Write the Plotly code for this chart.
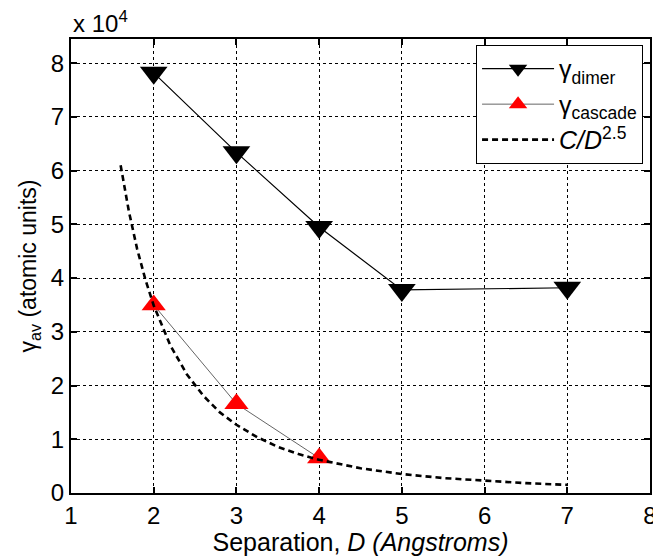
import plotly.graph_objects as go

# Data
D_dimer = [2, 3, 4, 5, 7]
gamma_dimer = [78200, 63400, 49500, 37800, 38200]

D_cascade = [2, 3, 4]
gamma_cascade = [35000, 16600, 6500]

D_fit = [1.6, 1.7, 1.8, 1.9, 2.0, 2.2, 2.4, 2.6, 2.8, 3.0, 3.25, 3.5, 3.75, 4.0, 4.5, 5.0, 5.5, 6.0, 6.5, 7.0]
gamma_fit = [61000, 52400, 45400, 39700, 34900, 27500, 22100, 18100, 15000, 12700, 10400, 8600, 7250, 6170,
             4600, 3530, 2780, 2240, 1830, 1520]

x_ticks = [1, 2, 3, 4, 5, 6, 7, 8]
y_tick_vals = [0, 10000, 20000, 30000, 40000, 50000, 60000, 70000, 80000]
y_tick_text = ["0", "1", "2", "3", "4", "5", "6", "7", "8"]

FONT = "Liberation Sans, Arial, sans-serif"

fig = go.Figure()
fig.add_trace(go.Scatter(
    x=D_dimer, y=gamma_dimer, mode="lines+markers",
    name="γ<sub>dimer</sub>",
    line=dict(color="black", width=1.2),
    marker=dict(symbol="triangle-down", size=24, color="black"),
))
fig.add_trace(go.Scatter(
    x=D_cascade, y=gamma_cascade, mode="lines+markers",
    name="γ<sub>cascade</sub>",
    line=dict(color="#222222", width=0.7),
    marker=dict(symbol="triangle-up", size=21, color="#ff0000"),
))
fig.add_trace(go.Scatter(
    x=D_fit, y=gamma_fit, mode="lines",
    name="<i>C/D</i><sup>2.5</sup>",
    line=dict(color="black", width=2.6, dash="6px,4px"),
))

axis_common = dict(
    showline=True, linecolor="black", linewidth=2, mirror="ticks",
    ticks="inside", ticklen=6, tickwidth=2, tickcolor="black",
    showgrid=True, gridcolor="black", gridwidth=1, griddash="dot",
    zeroline=False, automargin=False, ticklabeloverflow="allow",
    tickfont=dict(family=FONT, size=24, color="black"),
)

fig.update_xaxes(
    range=[1, 8], tickvals=x_ticks,
    title=dict(text="Separation, <i>D (Angstroms)</i>", font=dict(family=FONT, size=25, color="black"), standoff=2),
    **axis_common,
)
fig.update_yaxes(
    range=[0, 84500], tickvals=y_tick_vals, ticktext=y_tick_text,
    title=dict(text="γ<sub>av</sub> (atomic units)", font=dict(family=FONT, size=23, color="black"), standoff=8),
    **axis_common,
)

fig.add_annotation(
    text="x 10<sup>4</sup>", xref="paper", yref="paper", x=0, y=1.0,
    xanchor="left", yanchor="bottom", showarrow=False, yshift=0,
    font=dict(family=FONT, size=24, color="black"),
)

fig.update_layout(
    width=653, height=556,
    margin=dict(l=71, r=3, t=39, b=63),
    plot_bgcolor="white", paper_bgcolor="white",
    showlegend=True,
    legend=dict(
        x=0.988, y=0.987, xanchor="right", yanchor="top",
        bordercolor="black", borderwidth=1, bgcolor="white",
        font=dict(family=FONT, size=25, color="black"),
        itemwidth=72, tracegroupgap=0,
    ),
    font=dict(family=FONT),
)

fig.write_html("out.html", config={"displayModeBar": False},
               post_script="document.body.style.margin='0';document.body.style.overflow='hidden';")
